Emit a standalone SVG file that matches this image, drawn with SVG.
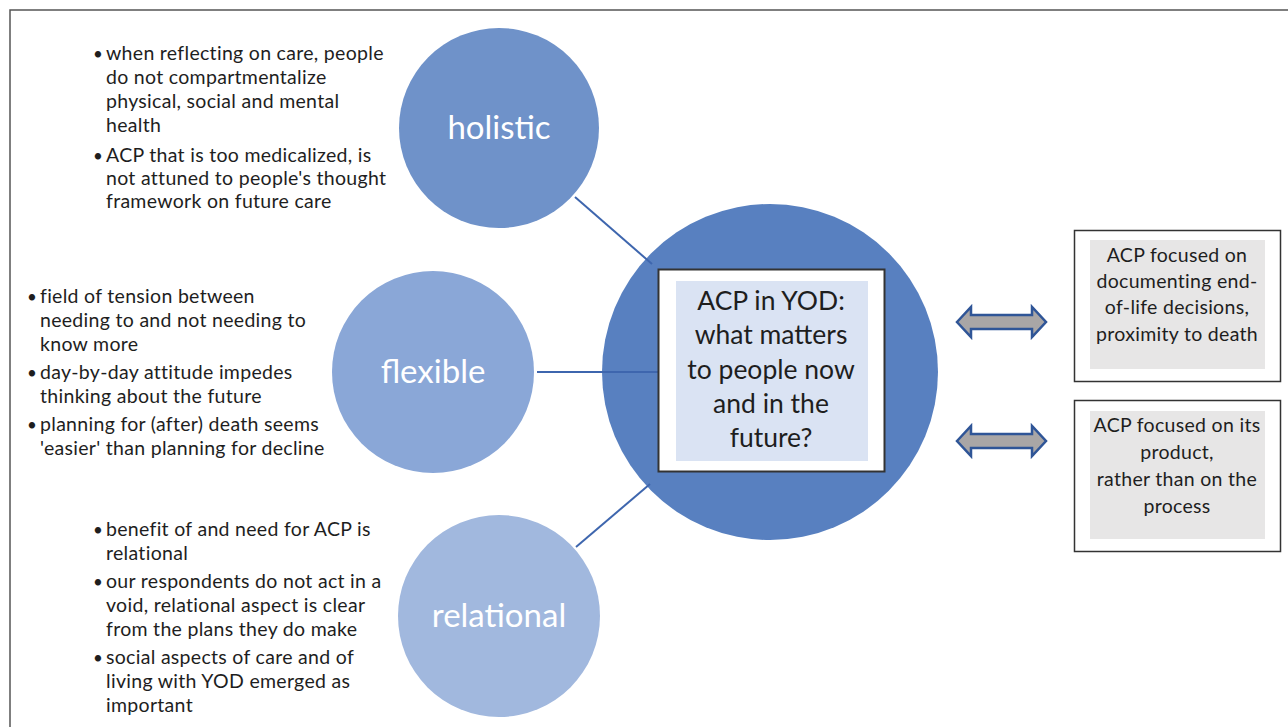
<svg xmlns="http://www.w3.org/2000/svg" xmlns:xlink="http://www.w3.org/1999/xlink" width="1288" height="727" viewBox="0 0 1288 727">
<style>
.frame{fill:none;stroke:#555;stroke-width:1.5}
.txt{font-family:Lato,"Open Sans","Liberation Sans",sans-serif;font-size:19.5px;letter-spacing:0.3px;fill:#1e1e1e}
.bul{font-family:Lato,"Open Sans","Liberation Sans",sans-serif;font-size:17px;fill:#1e1e1e}
.lbl{font-family:Lato,"Open Sans","Liberation Sans",sans-serif;font-size:33px;fill:#ffffff;text-anchor:middle}
.ctr{font-family:Lato,"Open Sans","Liberation Sans",sans-serif;font-size:26.5px;fill:#1e1e1e;text-anchor:middle}
.box{font-family:Lato,"Open Sans","Liberation Sans",sans-serif;font-size:19.5px;letter-spacing:0.3px;fill:#1e1e1e;text-anchor:middle}
.conn{stroke:#3E66AE;stroke-width:2;fill:none}
.dbl{fill:#A9A6A6;stroke:#2F5597;stroke-width:2.5;stroke-linejoin:miter}
.outer{fill:#ffffff;stroke:#333;stroke-width:1.5}
</style>
<defs>
<path id="darrow" d="M-44.5,0 L-30.5,-15 L-30.5,-7 L30.5,-7 L30.5,-15 L44.5,0 L30.5,15 L30.5,7 L-30.5,7 L-30.5,15 Z"/>
</defs>
<rect x="0" y="0" width="1288" height="727" fill="#ffffff"/>
<rect class="frame" x="10" y="10" width="1300" height="740"/>

<g id="node-center">
<circle cx="770" cy="372" r="168" fill="#5880C0"/>
</g>

<g id="connectors">
<line class="conn" x1="575" y1="197" x2="652" y2="264"/>
<line class="conn" x1="537" y1="372" x2="658" y2="372"/>
<line class="conn" x1="576" y1="547" x2="650" y2="484"/>
<use xlink:href="#darrow" class="dbl" transform="translate(1001.5,322)"/>
<use xlink:href="#darrow" class="dbl" transform="translate(1001.5,441)"/>
</g>

<g id="node-center-box">
<rect x="658.5" y="269.5" width="226" height="202" fill="#ffffff" stroke="#333" stroke-width="2"/>
<rect x="676" y="281" width="192" height="180" fill="#DAE3F3"/>
<text class="ctr" x="771" y="310">ACP in YOD:</text>
<text class="ctr" x="771" y="344">what matters</text>
<text class="ctr" x="771" y="379">to people now</text>
<text class="ctr" x="771" y="413">and in the</text>
<text class="ctr" x="771" y="447">future?</text>
</g>

<g id="node-holistic">
<circle cx="499" cy="128" r="100" fill="#6F92C9"/>
<text class="lbl" x="499" y="139">holistic</text>
</g>

<g id="node-flexible">
<circle cx="433" cy="372" r="101" fill="#8AA7D7"/>
<text class="lbl" x="433" y="383">flexible</text>
</g>

<g id="node-relational">
<circle cx="499" cy="616" r="101" fill="#A1B8DE"/>
<text class="lbl" x="499" y="627">relational</text>
</g>

<g id="holistic-notes">
<text class="bul" x="93" y="60">•</text>
<text class="txt" x="106" y="60">when reflecting on care, people</text>
<text class="txt" x="106" y="84">do not compartmentalize</text>
<text class="txt" x="106" y="108">physical, social and mental</text>
<text class="txt" x="106" y="132">health</text>
<text class="bul" x="93" y="162">•</text>
<text class="txt" x="106" y="162">ACP that is too medicalized, is</text>
<text class="txt" x="106" y="185">not attuned to people's thought</text>
<text class="txt" x="106" y="208">framework on future care</text>
</g>

<g id="flexible-notes">
<text class="bul" x="27" y="303">•</text>
<text class="txt" x="40" y="303">field of tension between</text>
<text class="txt" x="40" y="327">needing to and not needing to</text>
<text class="txt" x="40" y="351">know more</text>
<text class="bul" x="27" y="379">•</text>
<text class="txt" x="40" y="379">day-by-day attitude impedes</text>
<text class="txt" x="40" y="403">thinking about the future</text>
<text class="bul" x="27" y="431">•</text>
<text class="txt" x="40" y="431">planning for (after) death seems</text>
<text class="txt" x="40" y="455">'easier' than planning for decline</text>
</g>

<g id="relational-notes">
<text class="bul" x="93" y="536">•</text>
<text class="txt" x="106" y="536">benefit of and need for ACP is</text>
<text class="txt" x="106" y="560">relational</text>
<text class="bul" x="93" y="588">•</text>
<text class="txt" x="106" y="588">our respondents do not act in a</text>
<text class="txt" x="106" y="612">void, relational aspect is clear</text>
<text class="txt" x="106" y="636">from the plans they do make</text>
<text class="bul" x="93" y="664">•</text>
<text class="txt" x="106" y="664">social aspects of care and of</text>
<text class="txt" x="106" y="688">living with YOD emerged as</text>
<text class="txt" x="106" y="712">important</text>
</g>

<g id="node-documenting">
<rect class="outer" x="1074.5" y="230.5" width="206" height="151"/>
<rect x="1090" y="240" width="175" height="129" fill="#E7E6E6"/>
<text class="box" x="1177" y="262">ACP focused on</text>
<text class="box" x="1177" y="288">documenting end-</text>
<text class="box" x="1177" y="314">of-life decisions,</text>
<text class="box" x="1177" y="341">proximity to death</text>
</g>

<g id="node-product">
<rect class="outer" x="1074.5" y="400.5" width="206" height="151"/>
<rect x="1090" y="411" width="175" height="128" fill="#E7E6E6"/>
<text class="box" x="1177" y="432">ACP focused on its</text>
<text class="box" x="1177" y="459">product,</text>
<text class="box" x="1177" y="486">rather than on the</text>
<text class="box" x="1177" y="513">process</text>
</g>
</svg>
